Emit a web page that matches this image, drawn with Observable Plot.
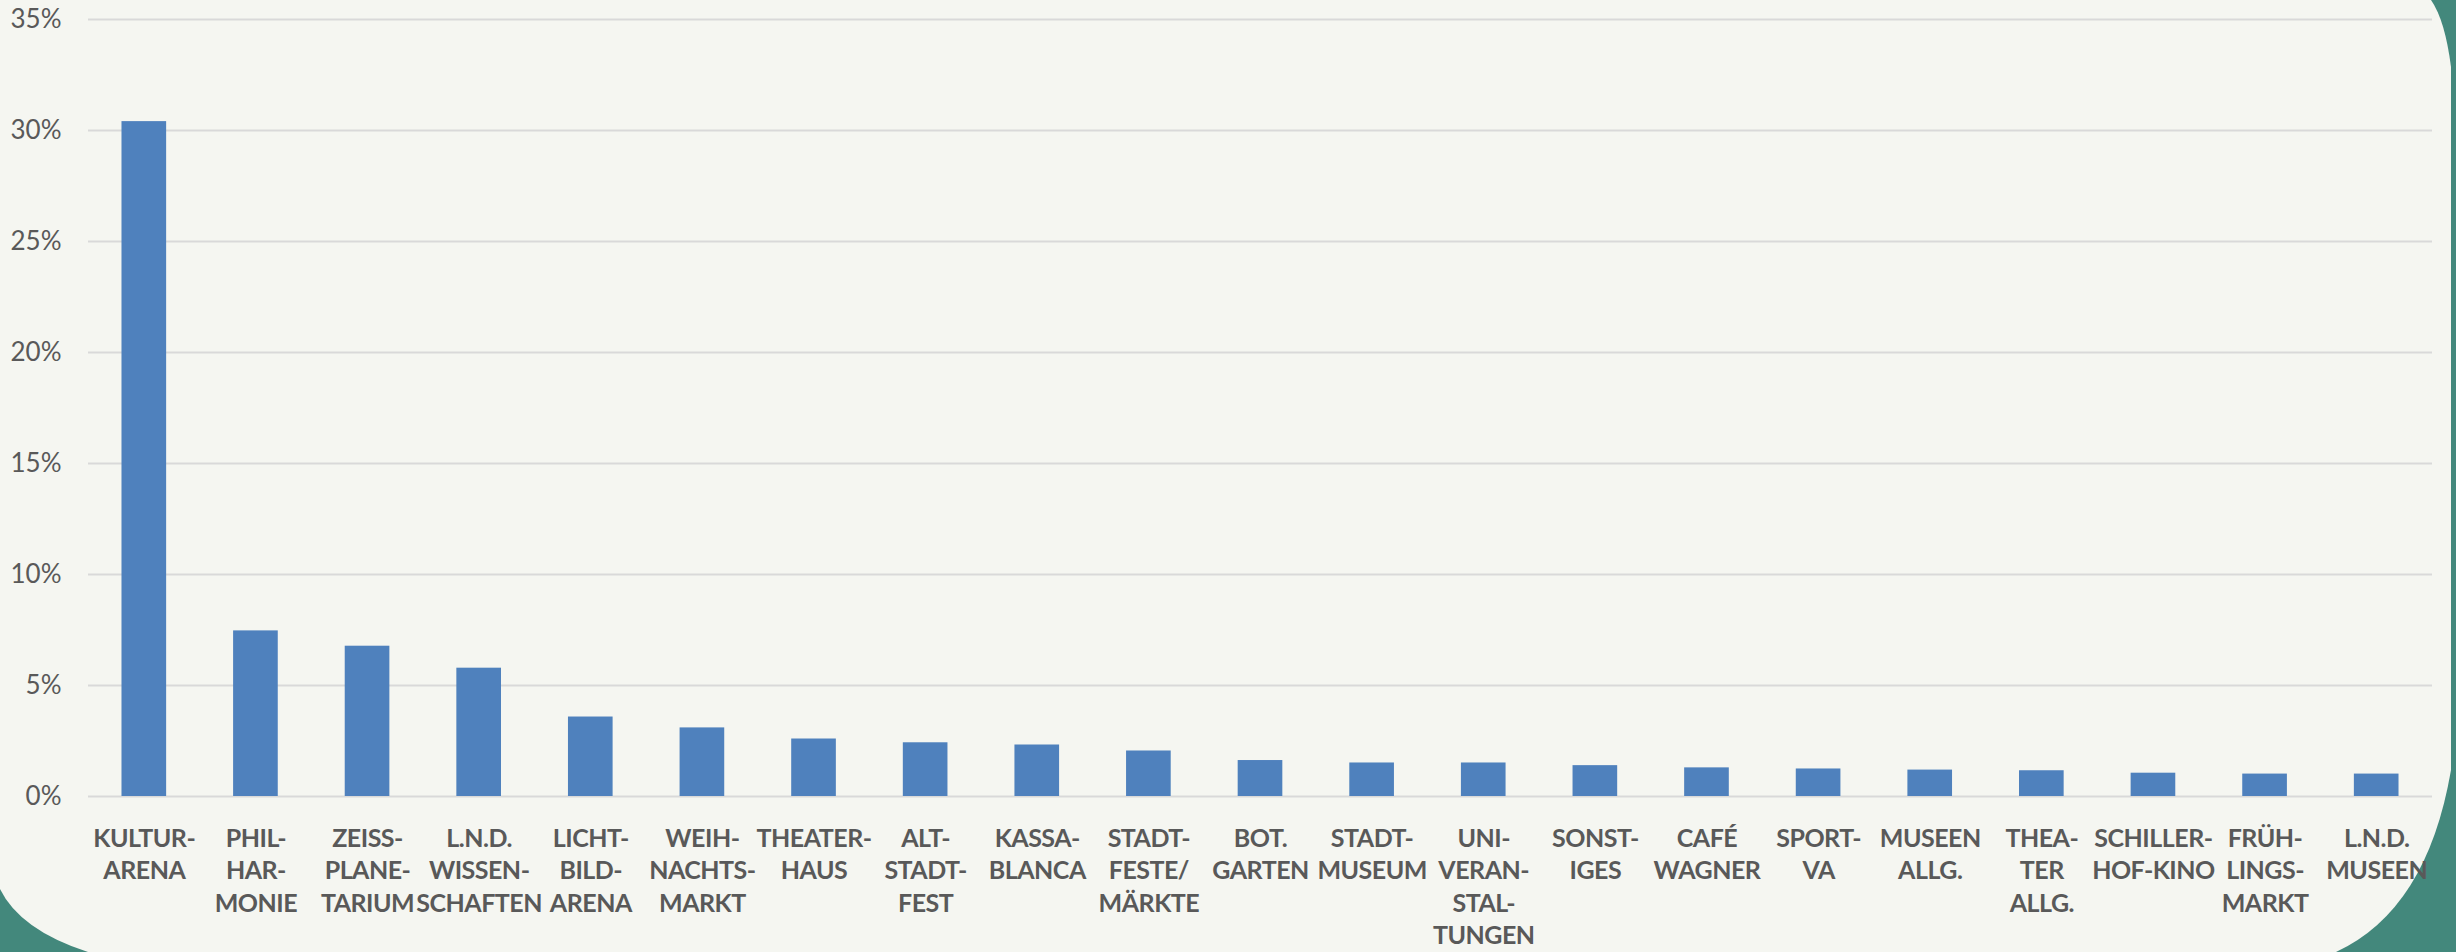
<!DOCTYPE html>
<html><head><meta charset="utf-8">
<script src="https://cdn.jsdelivr.net/npm/d3@7"></script>
<script src="https://cdn.jsdelivr.net/npm/@observablehq/plot@0.6"></script>
<style>
html,body{margin:0;padding:0;background:#43887c;}
#wrap{position:relative;width:2456px;height:952px;overflow:hidden;}
#bg{position:absolute;left:0;top:0;}
#chart{position:absolute;left:0;top:0;}
g[aria-label="x-axis tick label"] text{letter-spacing:-0.5px;}
</style></head><body>
<div id="wrap">
<svg id="bg" width="2456" height="952" xmlns="http://www.w3.org/2000/svg">
  <rect x="0" y="0" width="2456" height="952" fill="#43887c"/>
  <path d="M0,0 L2431,0 Q2445,20 2451,67 L2451,770 Q2427,910 2336,952 L88,952 Q20,930 0,889 Z" fill="#f5f6f1"/>
</svg>
<div id="chart"></div>
</div>
<script>
const categories = [
  "KULTUR-\nARENA",
  "PHIL-\nHAR-\nMONIE",
  "ZEISS-\nPLANE-\nTARIUM",
  "L.N.D.\nWISSEN-\nSCHAFTEN",
  "LICHT-\nBILD-\nARENA",
  "WEIH-\nNACHTS-\nMARKT",
  "THEATER-\nHAUS",
  "ALT-\nSTADT-\nFEST",
  "KASSA-\nBLANCA",
  "STADT-\nFESTE/\nMÄRKTE",
  "BOT.\nGARTEN",
  "STADT-\nMUSEUM",
  "UNI-\nVERAN-\nSTAL-\nTUNGEN",
  "SONST-\nIGES",
  "CAFÉ\nWAGNER",
  "SPORT-\nVA",
  "MUSEEN\nALLG.",
  "THEA-\nTER\nALLG.",
  "SCHILLER-\nHOF-KINO",
  "FRÜH-\nLINGS-\nMARKT",
  "L.N.D.\nMUSEEN"
];
const shares = [30.4, 7.46, 6.77, 5.78, 3.58, 3.09, 2.59, 2.42, 2.32, 2.05, 1.62, 1.51, 1.51, 1.39, 1.29, 1.24, 1.19, 1.16, 1.05, 1.01, 1.01];
const yTicks = [0, 5, 10, 15, 20, 25, 30, 35];

const data = categories.map((c, i) => ({category: c, share: shares[i]}));

const chart = Plot.plot({
  width: 2456,
  height: 952,
  marginTop: 19,
  marginBottom: 156,
  marginLeft: 88,
  marginRight: 24,
  style: {background: "transparent", color: "#595959", fontFamily: "Lato, sans-serif"},
  x: {domain: categories, paddingInner: 0.6, paddingOuter: 0.3, round: false, label: null},
  y: {domain: [0, 35], ticks: yTicks, label: null},
  marks: [
    Plot.gridY(yTicks, {stroke: "#d9d9d9", strokeOpacity: 1, strokeWidth: 2}),
    Plot.barY(data, {x: "category", y: "share", fill: "#4f81bd"}),
    Plot.axisY(yTicks, {tickSize: 0, tickPadding: 27, tickFormat: d => d + "%", fontSize: 26, fontFamily: "Lato, sans-serif", fill: "#595959", label: null}),
    Plot.axisX({tickSize: 0, tickPadding: 27, fontSize: 25, fontWeight: "bold", fontFamily: "Lato, sans-serif", lineHeight: 1.3, fill: "#595959", label: null})
  ]
});
document.getElementById("chart").appendChild(chart);
</script>
</body></html>
